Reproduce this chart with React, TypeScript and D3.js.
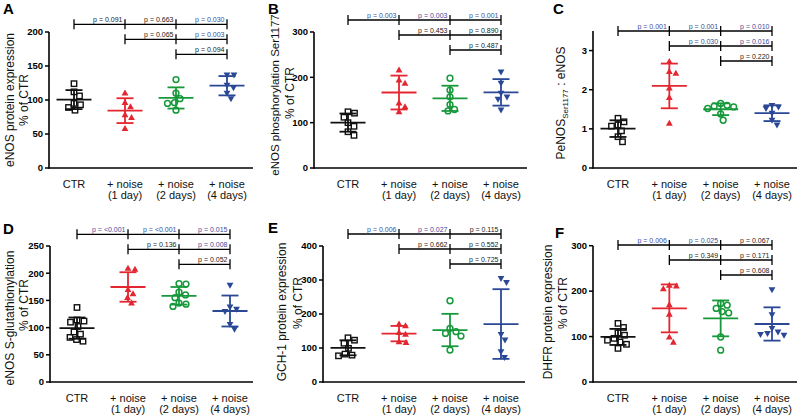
import React from "react";
import * as d3 from "d3";

// ---------- shared categories / styling ----------
const catLine1 = ["CTR", "+ noise", "+ noise", "+ noise"];
const catLine2 = ["", "(1 day)", "(2 days)", "(4 days)"];
const seriesColors = ["#111111", "#e3262f", "#17993b", "#2a4896"];
const markerKinds = ["square", "triUp", "circle", "triDown"];

// ---------- Panel A: eNOS protein expression ----------
const aCTR = [124, 112, 106, 95, 93, 89, 85];
const aDay1 = [110, 96, 90, 78, 74, 58];
const aDay2 = [130, 110, 102, 96, 95, 85];
const aDay4 = [137, 137, 122, 118, 110, 102];
const aTicks = [0, 50, 100, 150, 200];
const aP = [["0.091", "0.663", "0.030"], ["0.065", "0.003"], ["0.094"]];

// ---------- Panel B: eNOS phosphorylation Ser1177 ----------
const bCTR = [124, 121, 112, 100, 92, 80, 72];
const bDay1 = [216, 194, 187, 143, 135, 124];
const bDay2 = [198, 172, 157, 140, 129, 126];
const bDay4 = [212, 187, 165, 157, 152, 128];
const bTicks = [0, 100, 200, 300];
const bP = [["0.003", "0.003", "0.001"], ["0.453", "0.890"], ["0.487"]];

// ---------- Panel C: PeNOS : eNOS ----------
const cCTR = [1.27, 1.18, 1.1, 1.07, 0.95, 0.8, 0.67];
const cDay1 = [2.72, 2.46, 2.42, 2.04, 1.8, 1.14];
const cDay2 = [1.65, 1.6, 1.58, 1.56, 1.52, 1.38, 1.22];
const cDay4 = [1.6, 1.56, 1.52, 1.4, 1.22, 1.1];
const cTicks = [0, 1, 2, 3];
const cP = [["0.001", "0.001", "0.010"], ["0.030", "0.016"], ["0.220"]];

// ---------- Panel D: eNOS S-glutathionylation ----------
const dCTR = [137, 114, 112, 110, 102, 92, 88, 82, 78, 75];
const dDay1 = [209, 207, 170, 162, 155, 145];
const dDay2 = [181, 180, 165, 160, 155, 145, 143, 139];
const dDay4 = [178, 138, 134, 130, 106, 97];
const dTicks = [0, 50, 100, 150, 200, 250];
const dP = [["<0.001", "<0.001", "0.015"], ["0.136", "0.008"], ["0.052"]];

// ---------- Panel E: GCH-1 protein expression ----------
const eCTR = [130, 123, 114, 99, 82, 79, 77];
const eDay1 = [170, 165, 145, 140, 118, 116];
const eDay2 = [239, 158, 148, 143, 135, 94];
const eDay4 = [305, 293, 140, 124, 89, 72];
const eTicks = [0, 100, 200, 300, 400];
const eP = [["0.006", "0.027", "0.115"], ["0.662", "0.552"], ["0.725"]];

// ---------- Panel F: DHFR protein expression ----------
const fCTR = [129, 120, 108, 103, 96, 92, 88, 83, 74];
const fDay1 = [213, 211, 205, 170, 149, 99, 87];
const fDay2 = [173, 169, 162, 155, 152, 99, 70];
const fDay4 = [203, 148, 118, 110, 107, 105, 103];
const fTicks = [0, 100, 200, 300];
const fP = [["0.006", "0.025", "0.067"], ["0.349", "0.171"], ["0.608"]];

const FONT = "'Liberation Sans', Arial, Helvetica, sans-serif";
const BLUE_P = "#3b4d9e";

type TitleLine = { text: string; x: number; y: number; size?: number; sub?: boolean };
type PanelCfg = {
  letter: string;
  letterX: number;
  letterY: number;
  groups: number[][];
  ticks: number[];
  yMax: number;
  pvals: string[][];
  axisX: number;
  y0: number;
  yTop: number;
  cat0: number;
  catN: number;
  xEnd: number;
  rows: number[];
  titles: TitleLine[];
};

const panels: PanelCfg[] = [
  {
    letter: "A", letterX: 3, letterY: 14,
    groups: [aCTR, aDay1, aDay2, aDay4], ticks: aTicks, yMax: 200, pvals: aP,
    axisX: 49, y0: 168, yTop: 32, cat0: 74, catN: 227, xEnd: 253,
    rows: [24.3, 39.3, 54.3],
    titles: [
      { text: "eNOS protein expression", x: 10, y: 100 },
      { text: "% of CTR", x: 24, y: 100 },
    ],
  },
  {
    letter: "B", letterX: 268, letterY: 14,
    groups: [bCTR, bDay1, bDay2, bDay4], ticks: bTicks, yMax: 300, pvals: bP,
    axisX: 314, y0: 168, yTop: 32, cat0: 348, catN: 501, xEnd: 527,
    rows: [20, 35, 50],
    titles: [
      { text: "eNOS phosphorylation Ser1177", x: 275, y: 95, size: 11.5 },
      { text: "% of CTR", x: 290, y: 93 },
    ],
  },
  {
    letter: "C", letterX: 553, letterY: 14,
    groups: [cCTR, cDay1, cDay2, cDay4], ticks: cTicks, yMax: 3.5, pvals: cP,
    axisX: 593, y0: 168, yTop: 31, cat0: 618, catN: 772, xEnd: 797,
    rows: [31, 46, 61],
    titles: [{ text: "PeNOS", x: 561, y: 103, sub: true }],
  },
  {
    letter: "D", letterX: 3, letterY: 234,
    groups: [dCTR, dDay1, dDay2, dDay4], ticks: dTicks, yMax: 250, pvals: dP,
    axisX: 50, y0: 382, yTop: 246, cat0: 77, catN: 230, xEnd: 253,
    rows: [234.3, 249.3, 264.3],
    titles: [
      { text: "eNOS S-glutathionylation", x: 10, y: 318 },
      { text: "% of CTR", x: 24, y: 305 },
    ],
  },
  {
    letter: "E", letterX: 268, letterY: 233,
    groups: [eCTR, eDay1, eDay2, eDay4], ticks: eTicks, yMax: 400, pvals: eP,
    axisX: 323, y0: 382, yTop: 246, cat0: 348, catN: 501, xEnd: 525,
    rows: [234, 249, 264],
    titles: [
      { text: "GCH-1 protein expression", x: 282, y: 312 },
      { text: "% of CTR", x: 298, y: 303 },
    ],
  },
  {
    letter: "F", letterX: 555, letterY: 238,
    groups: [fCTR, fDay1, fDay2, fDay4], ticks: fTicks, yMax: 300, pvals: fP,
    axisX: 593, y0: 382, yTop: 245.7, cat0: 618, catN: 772, xEnd: 797,
    rows: [245, 260, 275],
    titles: [
      { text: "DHFR protein expression", x: 548, y: 312 },
      { text: "% of CTR", x: 563, y: 303 },
    ],
  },
];

// simple deterministic beeswarm: offsets in px
function swarm(values: number[], yPos: (v: number) => number, diam: number): number[] {
  const order = values.map((_, i) => i).sort((a, b) => values[b] - values[a]);
  const placed: { x: number; y: number }[] = [];
  const out = new Array(values.length).fill(0);
  for (const i of order) {
    const py = yPos(values[i]);
    let best = 0;
    for (let k = 0; k < 400; k++) {
      const off = (k % 2 === 1 ? 1 : -1) * Math.ceil(k / 2) * 0.5;
      if (placed.every((p) => Math.hypot(p.x - off, p.y - py) >= diam)) {
        best = off;
        break;
      }
    }
    placed.push({ x: best, y: py });
    out[i] = best;
  }
  return out;
}

function Marker({ kind, x, y, color }: { kind: string; x: number; y: number; color: string }) {
  if (kind === "square")
    return <rect x={x - 2.7} y={y - 2.7} width={5.4} height={5.4} fill="none" stroke={color} strokeWidth={1.4} />;
  if (kind === "circle")
    return <circle cx={x} cy={y} r={2.9} fill="none" stroke={color} strokeWidth={1.5} />;
  const s = kind === "triUp" ? 1 : -1;
  const p = d3.path();
  p.moveTo(x, y - 3.6 * s);
  p.lineTo(x + 3.4, y + 2.4 * s);
  p.lineTo(x - 3.4, y + 2.4 * s);
  p.closePath();
  return <path d={p.toString()} fill={color} />;
}

function isSig(p: string) {
  if (p.startsWith("<")) return true;
  return parseFloat(p) < 0.05;
}

function PanelView({ cfg }: { cfg: PanelCfg }) {
  const y = d3.scaleLinear().domain([0, cfg.yMax]).range([cfg.y0, cfg.yTop]);
  const x = d3.scalePoint<number>().domain([0, 1, 2, 3]).range([cfg.cat0, cfg.catN]);
  const tickFmt = (v: number) => d3.format("d")(v);
  return (
    <g>
      <text x={cfg.letterX} y={cfg.letterY} fontFamily={FONT} fontWeight="bold" fontSize={15} fill="#000">
        {cfg.letter}
      </text>
      {cfg.titles.map((t, i) => (
        <text
          key={i}
          transform={`translate(${t.x},${t.y}) rotate(-90)`}
          textAnchor="middle"
          dy="0.35em"
          fontFamily={FONT}
          fontSize={t.size ?? 12}
          fill="#111"
        >
          {t.sub ? (
            <>
              <tspan>PeNOS</tspan>
              <tspan fontSize={8} dy="3">Ser1177</tspan>
              <tspan dy="-3"> : eNOS</tspan>
            </>
          ) : (
            t.text
          )}
        </text>
      ))}
      <line x1={cfg.axisX} x2={cfg.axisX} y1={cfg.y0 + 0.75} y2={cfg.yTop} stroke="#000" strokeWidth={1.6} />
      {cfg.ticks.map((t) => (
        <g key={t}>
          <line x1={cfg.axisX - 4} x2={cfg.axisX} y1={y(t)} y2={y(t)} stroke="#000" strokeWidth={1.5} />
          <text
            x={cfg.axisX - 6}
            y={y(t)}
            dy="0.35em"
            textAnchor="end"
            fontFamily={FONT}
            fontWeight="bold"
            fontSize={9.5}
            fill="#000"
          >
            {tickFmt(t)}
          </text>
        </g>
      ))}
      <line x1={cfg.axisX} x2={cfg.xEnd} y1={cfg.y0} y2={cfg.y0} stroke="#000" strokeWidth={1.6} />
      {catLine1.map((c, i) => (
        <text key={i} textAnchor="middle" fontFamily={FONT} fontSize={11} fill="#111">
          <tspan x={x(i)} y={cfg.y0 + 19.5}>{c}</tspan>
          {catLine2[i] && (
            <tspan x={x(i)} y={cfg.y0 + 30.5}>{catLine2[i]}</tspan>
          )}
        </text>
      ))}
      {cfg.pvals.map((row, r) => {
        const start = r;
        const ly = cfg.rows[r];
        return (
          <g key={r}>
            <line x1={x(start)!} x2={x(3)!} y1={ly} y2={ly} stroke="#000" strokeWidth={1.3} />
            {d3.range(start, 4).map((ci) => (
              <line key={ci} x1={x(ci)!} x2={x(ci)!} y1={ly - 5} y2={ly + 5} stroke="#000" strokeWidth={1.3} />
            ))}
            {row.map((p, j) => {
              const endIdx = start + 1 + j;
              return (
                <text
                  key={j}
                  x={x(endIdx)! - 2.5}
                  y={ly - 2.5}
                  textAnchor="end"
                  fontFamily={FONT}
                  fontSize={7}
                  fill={isSig(p) ? BLUE_P : "#222"}
                >
                  {`p = ${p}`}
                </text>
              );
            })}
          </g>
        );
      })}
      {cfg.groups.map((vals, gi) => {
        const color = seriesColors[gi];
        const cx = x(gi)!;
        const mean = d3.mean(vals)!;
        const sd = d3.deviation(vals)!;
        const offs = swarm(vals, (v) => y(v), 6.6);
        return (
          <g key={gi}>
            <line x1={cx} x2={cx} y1={y(mean - sd)} y2={y(mean + sd)} stroke={color} strokeWidth={1.8} />
            <line x1={cx - 8.5} x2={cx + 8.5} y1={y(mean + sd)} y2={y(mean + sd)} stroke={color} strokeWidth={1.8} />
            <line x1={cx - 8.5} x2={cx + 8.5} y1={y(mean - sd)} y2={y(mean - sd)} stroke={color} strokeWidth={1.8} />
            <line x1={cx - 17.5} x2={cx + 17.5} y1={y(mean)} y2={y(mean)} stroke={color} strokeWidth={1.8} />
            {vals.map((v, i) => (
              <Marker key={i} kind={markerKinds[gi]} x={cx + offs[i]} y={y(v)} color={color} />
            ))}
          </g>
        );
      })}
    </g>
  );
}

export default function App() {
  return (
    <svg
      width={800}
      height={417}
      viewBox="0 0 800 417"
      style={{ position: "absolute", left: 0, top: 0, display: "block", background: "#fff" }}
    >
      <rect x={0} y={0} width={800} height={417} fill="#fff" />
      {panels.map((p) => (
        <PanelView key={p.letter} cfg={p} />
      ))}
    </svg>
  );
}
